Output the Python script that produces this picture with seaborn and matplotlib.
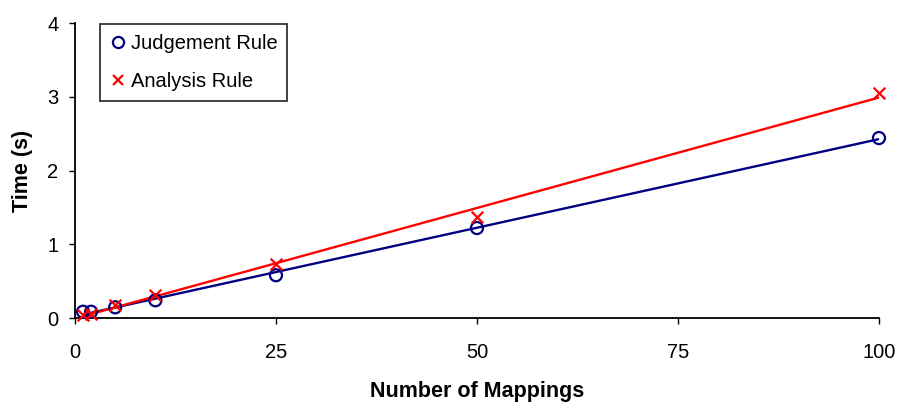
import matplotlib
matplotlib.use("Agg")
import matplotlib.pyplot as plt
import seaborn as sns
import numpy as np
import pandas as pd
from matplotlib.lines import Line2D

mappings = [1, 2, 5, 10, 25, 50, 100]
judgement_time = [0.085, 0.085, 0.145, 0.24, 0.58, 1.22, 2.44]
analysis_time = [0.04, 0.06, 0.18, 0.31, 0.73, 1.37, 3.05]
x_ticks = [0, 25, 50, 75, 100]
y_ticks = [0, 1, 2, 3, 4]

sns.set_style("white")
plt.rcParams['font.family'] = ['Liberation Sans', 'DejaVu Sans']

fig = plt.figure(figsize=(8.98, 4.05), dpi=100)
ax = fig.add_axes([0.0835, 0.2148, 0.8953, 0.7284])

navy = "#000080"
red = "#FF0000"

df_j = pd.DataFrame({"x": mappings, "y": judgement_time})
df_a = pd.DataFrame({"x": mappings, "y": analysis_time})

sns.regplot(data=df_j, x="x", y="y", ax=ax, ci=None, marker="o",
            scatter_kws=dict(s=75, facecolors="none", edgecolors=navy, linewidths=1.6,
                             alpha=1, clip_on=False, zorder=3),
            line_kws=dict(color=navy, lw=1.7, zorder=2))
sns.regplot(data=df_a, x="x", y="y", ax=ax, ci=None, marker="x",
            scatter_kws=dict(s=70, color=red, linewidths=1.6, alpha=1, clip_on=False, zorder=4),
            line_kws=dict(color=red, lw=1.7, zorder=2))

ax.set_xlim(0, 100)
ax.set_ylim(0, 4)
ax.set_xticks(x_ticks)
ax.set_yticks(y_ticks)
ax.tick_params(axis="both", direction="out", length=4, width=1, labelsize=14.5,
               colors="black", labelcolor="black", bottom=True, left=True)
ax.tick_params(axis="x", pad=14)
ax.tick_params(axis="y", pad=8)
for s in ["top", "right"]:
    ax.spines[s].set_visible(False)
for s in ["left", "bottom"]:
    ax.spines[s].set_color("black")
    ax.spines[s].set_linewidth(1.3)
ax.set_xlabel("Number of Mappings", fontsize=15.5, fontweight="bold", color="black", labelpad=14)
ax.set_ylabel("Time (s)", fontsize=15.5, fontweight="bold", color="black", labelpad=10)

handles = [
    Line2D([], [], marker="o", linestyle="none", markerfacecolor="none", markeredgecolor=navy,
           markersize=8, markeredgewidth=1.6),
    Line2D([], [], marker="x", linestyle="none", color=red, markersize=7.5, markeredgewidth=1.6),
]
leg = ax.legend(handles, ["Judgement Rule", "Analysis Rule"], loc="upper left",
                bbox_to_anchor=(0.031, 0.997), fontsize=14.5, frameon=True, fancybox=False,
                edgecolor="black", handlelength=0.8, handletextpad=0.22, borderpad=0.5,
                labelspacing=0.95, borderaxespad=0)
leg.get_frame().set_linewidth(1.3)
for t in leg.get_texts():
    t.set_color("black")

fig.savefig("out.png", dpi=100)
